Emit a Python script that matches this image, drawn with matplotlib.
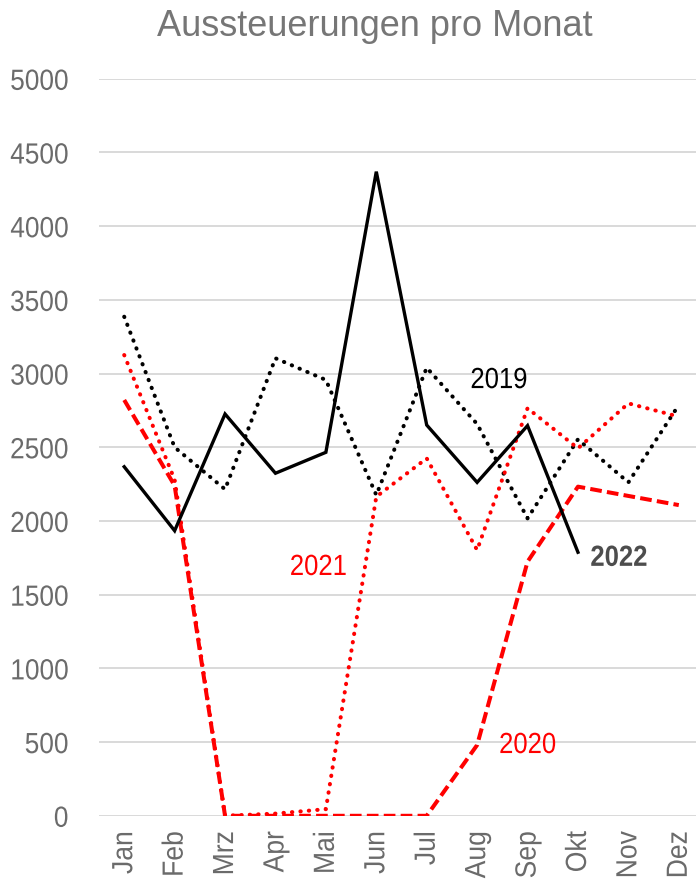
import matplotlib
matplotlib.use("Agg")
import matplotlib.pyplot as plt
import numpy as np
from matplotlib.patheffects import AbstractPathEffect
from matplotlib.transforms import Affine2D

months = ['Jan', 'Feb', 'Mrz', 'Apr', 'Mai', 'Jun', 'Jul', 'Aug', 'Sep', 'Okt', 'Nov', 'Dez']
y2019 = [3386, 2500, 2215, 3104, 2957, 2176, 3040, 2658, 2018, 2554, 2262, 2787]
y2020 = [2821, 2240, 0, 0, 0, 0, 0, 480, 1724, 2233, 2170, 2108]
y2021 = [3126, 2280, 0, 15, 45, 2165, 2425, 1803, 2765, 2493, 2798, 2708]
y2022 = [2368, 1934, 2726, 2324, 2466, 4370, 2651, 2262, 2647, 1788]
yticks = [0, 500, 1000, 1500, 2000, 2500, 3000, 3500, 4000, 4500, 5000]


class Squeeze(AbstractPathEffect):
    """Narrow the glyphs horizontally (Arial-Narrow look)."""
    def __init__(self, sx, anchor='center'):
        super().__init__()
        self.sx = sx
        self.anchor = anchor

    def draw_path(self, renderer, gc, tpath, affine, rgbFace=None):
        ext = tpath.get_extents()
        if self.anchor == 'right':
            a = ext.x1
        elif self.anchor == 'left':
            a = ext.x0
        else:
            a = (ext.x0 + ext.x1) / 2
        t = Affine2D().translate(-a, 0).scale(self.sx, 1).translate(a, 0)
        renderer.draw_path(gc, tpath, t + affine, rgbFace)


plt.rcParams['font.family'] = ['Liberation Sans', 'DejaVu Sans']

W, H = 696, 882
fig = plt.figure(figsize=(W / 100, H / 100), dpi=100)
left = 99 / W
right = 704 / W
bottom = 1 - 815.8 / H
top = 1 - 78.8 / H
ax = fig.add_axes([left, bottom, right - left, top - bottom])

x = np.arange(len(months))
ax.plot(x, y2019, color='black', lw=2.9, linestyle=(0, (0.1, 2.0)),
        dash_capstyle='round', zorder=3)
ax.plot(x, y2021, color='#ff0000', lw=2.9, linestyle=(0, (0.1, 2.0)),
        dash_capstyle='round', zorder=3)
ax.plot(x, y2020, color='#ff0000', lw=2.9, linestyle=(0, (2.9, 1.3)),
        dash_capstyle='butt', zorder=4)
ax.plot(x[:len(y2022)], y2022, color='black', lw=2.4, solid_joinstyle='miter', zorder=5)

ax.set_xlim(-0.5, 11.5)
ax.set_ylim(0, 5000)
ax.set_yticks(yticks)
ax.set_yticklabels([str(v) for v in yticks])
ax.set_xticks(x)
ax.set_xticklabels(months, rotation=90)
ax.grid(axis='y', color='#d9d9d9', lw=1.4)
ax.set_axisbelow(True)
for s in ax.spines.values():
    s.set_visible(False)
ax.tick_params(axis='y', length=0, pad=22, labelsize=21, labelcolor='#6b6b6b')
ax.tick_params(axis='x', length=0, pad=11, labelsize=21, labelcolor='#6b6b6b')
for lbl in ax.get_yticklabels():
    lbl.set_path_effects([Squeeze(0.9, 'right')])
for lbl in ax.get_xticklabels():
    lbl.set_path_effects([Squeeze(0.91, 'right')])

ann = [
    (7.43, 2956, '2019', 'black', 'normal'),
    (3.85, 1688, '2021', '#ff0000', 'normal'),
    (8.0, 480, '2020', '#ff0000', 'normal'),
    (9.81, 1750, '2022', '#4d4d4d', 'bold'),
]
for xa, ya, s, c, w in ann:
    t = ax.text(xa, ya, s, color=c, fontsize=21, fontweight=w, ha='center', va='center')
    t.set_path_effects([Squeeze(0.88, 'center')])

fig.text(375 / W, 1 - 36 / H, 'Aussteuerungen pro Monat', color='#767676',
         fontsize=26, ha='center', va='baseline')

fig.savefig('out.png', dpi=100)
